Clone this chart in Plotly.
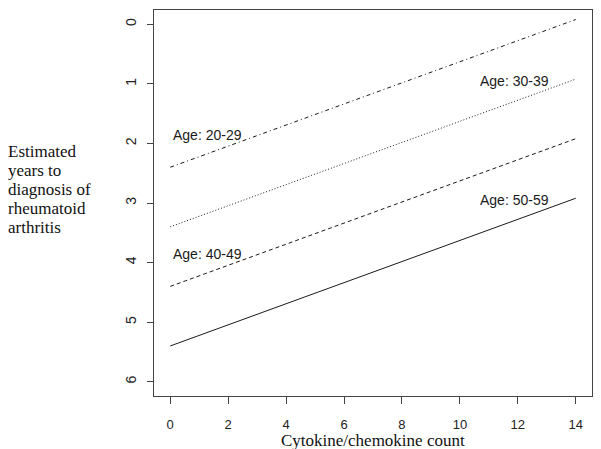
import plotly.graph_objects as go

# Data
counts = [0, 14]
age_groups = ["20-29", "30-39", "40-49", "50-59"]
years_20_29 = [2.40, -0.08]
years_30_39 = [3.40, 0.92]
years_40_49 = [4.40, 1.92]
years_50_59 = [5.40, 2.92]
series = [years_20_29, years_30_39, years_40_49, years_50_59]

# label positions (data coords)
label_x = [1.3, 11.9, 1.3, 11.9]
label_y = [1.85, 0.95, 3.85, 2.95]

x_ticks = [0, 2, 4, 6, 8, 10, 12, 14]
y_ticks = [0, 1, 2, 3, 4, 5, 6]

ytitle_lines = ["Estimated", "years to", "diagnosis of", "rheumatoid", "arthritis"]

dashes = ["4px,3px,1px,3px", "1px,2px", "4px,3px", "solid"]
ink = "#1a1a1a"
axis_col = "#444444"
serif = "Liberation Serif, Times New Roman, serif"
sans = "Liberation Sans, Arial, sans-serif"

fig = go.Figure()

for i, vals in enumerate(series):
    fig.add_trace(go.Scatter(
        x=counts, y=vals, mode="lines",
        line=dict(color=ink, width=1, dash=dashes[i]),
        showlegend=False, hoverinfo="skip"
    ))
    fig.add_annotation(
        x=label_x[i], y=label_y[i], text="Age: " + age_groups[i],
        showarrow=False, xref="x", yref="y",
        font=dict(family=sans, size=14, color=ink)
    )

# multi-line horizontal y title, one line per annotation (tight R-like spacing)
for k, line in enumerate(ytitle_lines):
    fig.add_annotation(
        x=0, xref="paper", xanchor="left", xshift=-148,
        y=1, yref="paper", yanchor="middle", yshift=-(141 + 19.2 * k),
        text=line, showarrow=False,
        font=dict(family=serif, size=17, color="#111111")
    )

fig.add_annotation(
    x=0.5, xref="paper", xanchor="center",
    y=0, yref="paper", yanchor="middle", yshift=-44,
    text="Cytokine/chemokine count", showarrow=False,
    font=dict(family=serif, size=17, color="#111111")
)

# page body has an 8px margin, so the figure is sized to fit the window
fig.update_layout(
    width=593, height=441,
    margin=dict(l=146, r=9, t=2, b=53),
    paper_bgcolor="white", plot_bgcolor="white",
    xaxis=dict(
        range=[-0.56, 14.56], tickvals=x_ticks,
        ticks="outside", ticklen=7, tickcolor=axis_col, tickwidth=1,
        showline=True, linecolor=axis_col, linewidth=1, mirror=True,
        showgrid=False, zeroline=False,
        tickfont=dict(family=sans, size=13, color="#222222"),
        ticklabelstandoff=9
    ),
    yaxis=dict(
        range=[6.24, -0.24], tickvals=y_ticks,
        ticks="outside", ticklen=6, tickcolor=axis_col, tickwidth=1,
        showline=True, linecolor=axis_col, linewidth=1, mirror=True,
        showgrid=False, zeroline=False, tickangle=-90,
        tickfont=dict(family=sans, size=14, color="#222222"),
        ticklabelstandoff=5
    )
)

fig.write_html("out.html")
